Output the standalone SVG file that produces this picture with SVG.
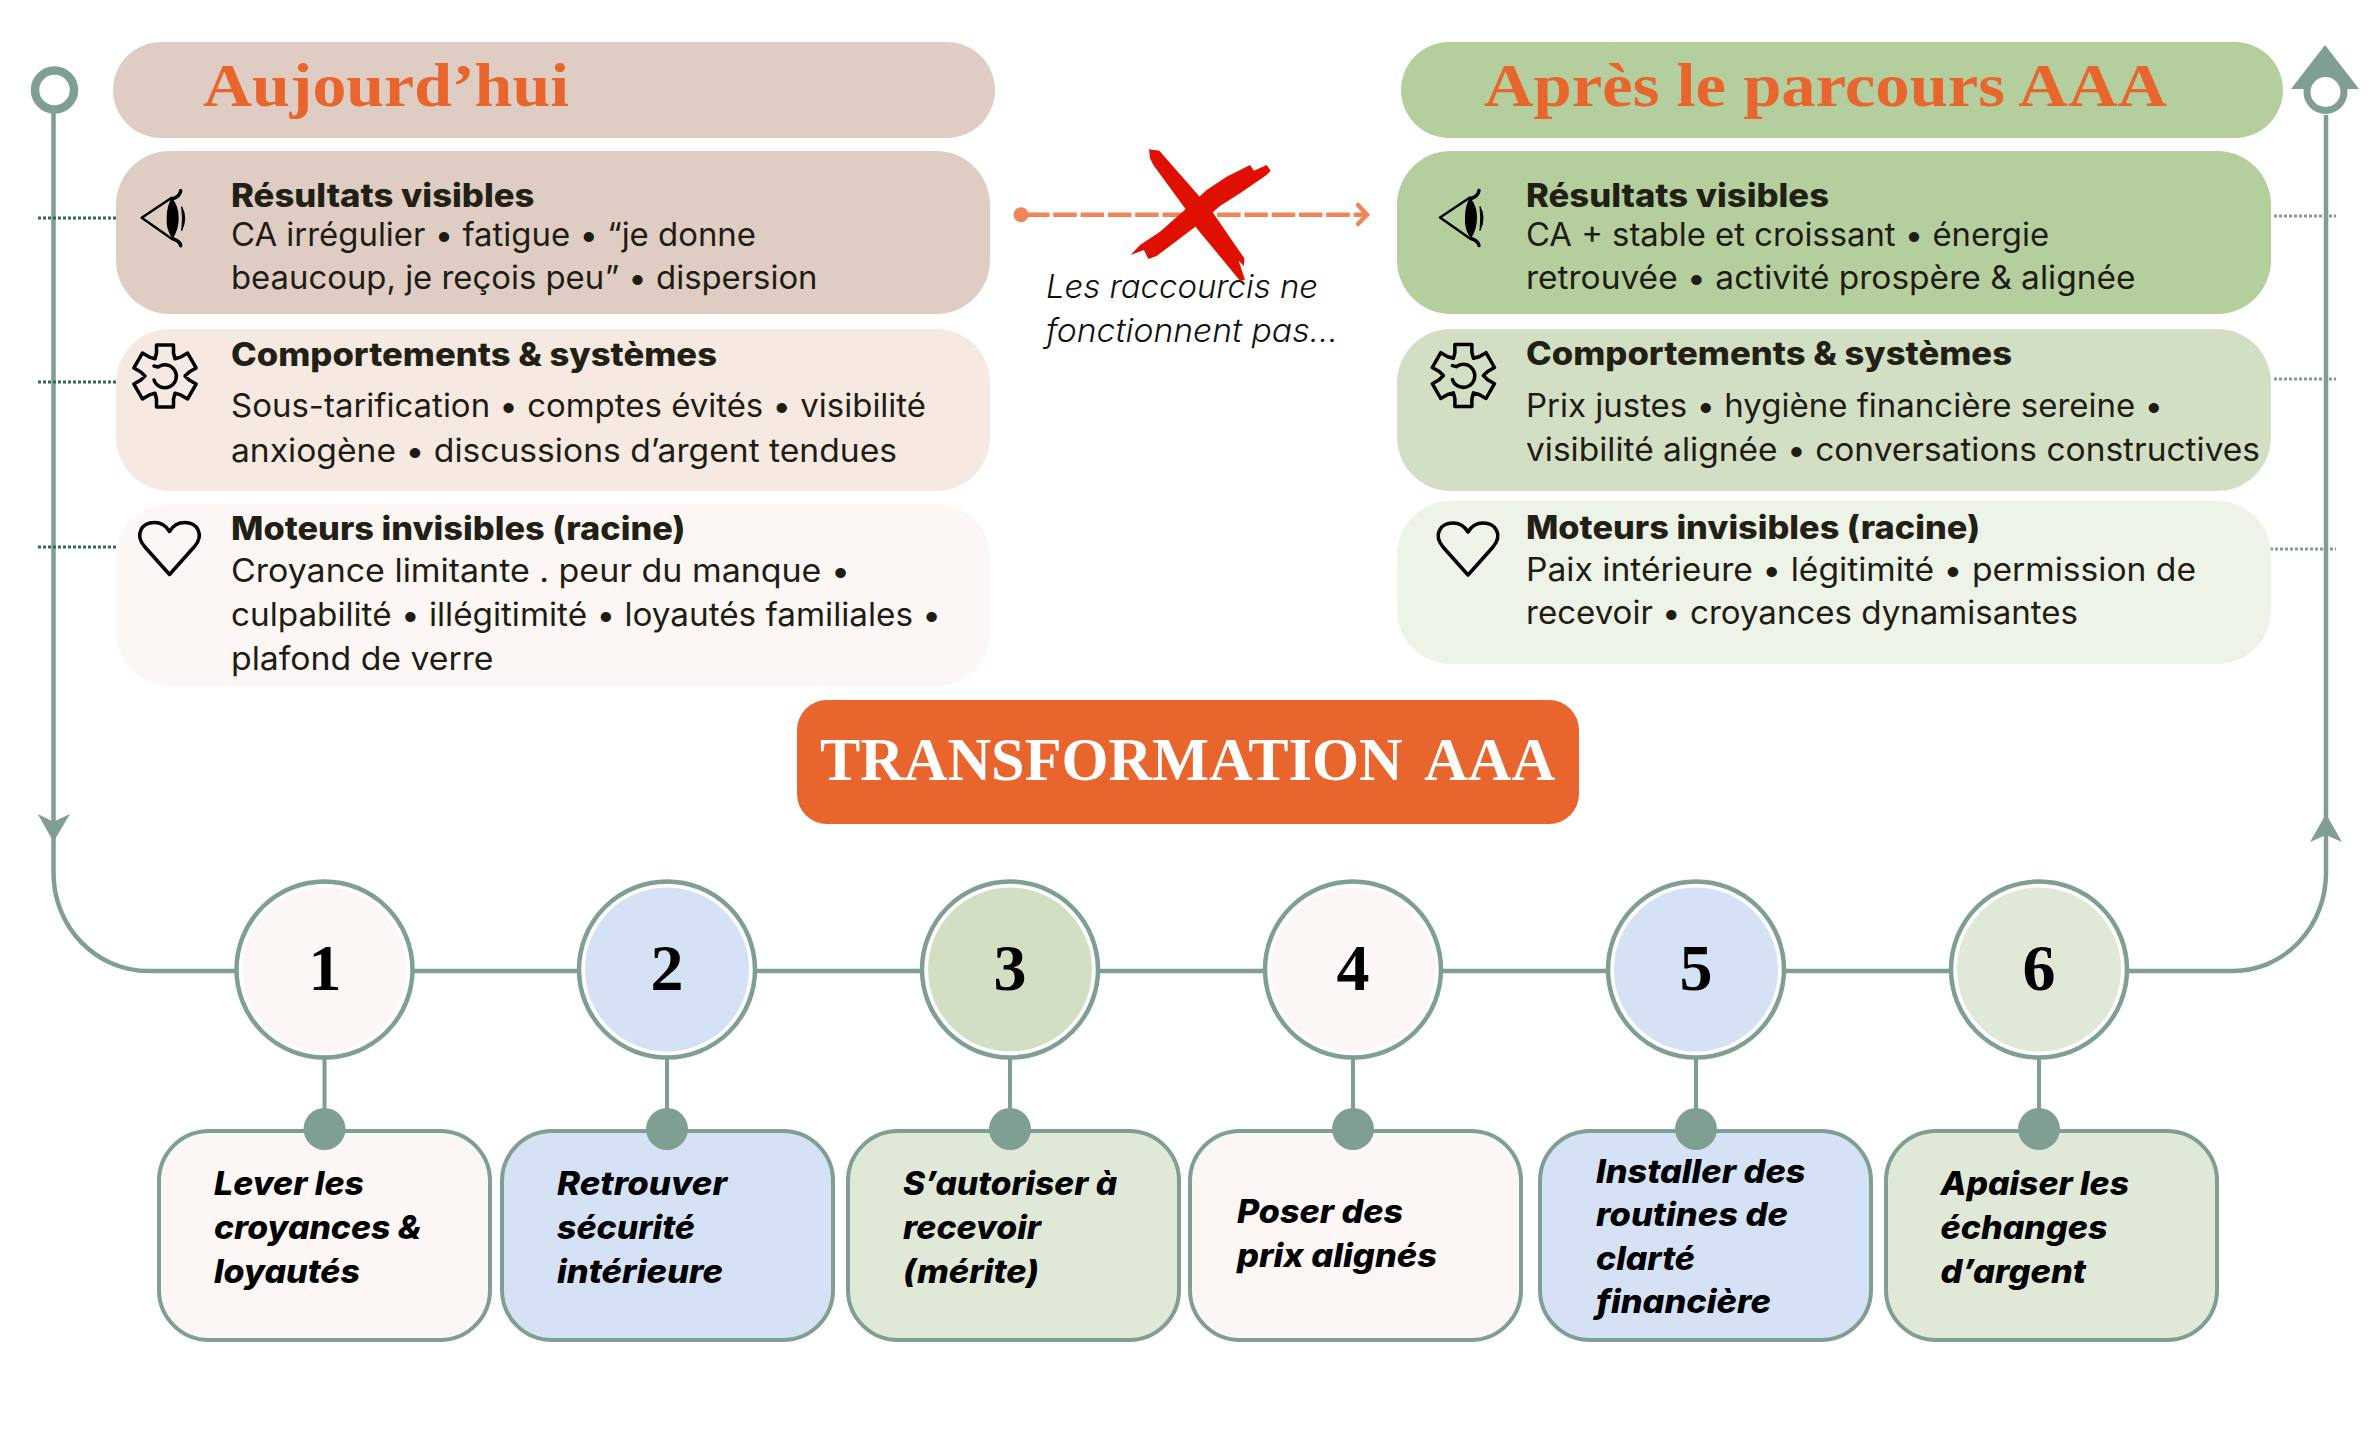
<svg xmlns="http://www.w3.org/2000/svg" xmlns:xlink="http://www.w3.org/1999/xlink" width="2376" height="1440" viewBox="0 0 2376 1440">
<style>
.t{font-family:"Inter","Liberation Sans",sans-serif;font-size:32px;fill:#1f1c14}
.h{font-family:"Inter","Liberation Sans",sans-serif;font-size:32px;font-weight:800;fill:#221f14}
.s{font-family:"Inter","Liberation Sans",sans-serif;font-size:32px;font-weight:800;font-style:italic;fill:#000}
.i{font-family:"Inter","Liberation Sans",sans-serif;font-size:32px;font-weight:300;font-style:italic;fill:#111}
.ti{font-family:"Liberation Serif",serif;font-size:62px;font-weight:bold;fill:#E8652D}
.n{font-family:"Liberation Serif",serif;font-size:66px;font-weight:bold;fill:#000;text-anchor:middle}
.tr{font-family:"Liberation Serif",serif;font-size:61px;font-weight:bold;fill:#fff;word-spacing:10px}
.ln{fill:none;stroke:#7F9F92;stroke-width:4.5}
.st{fill:none;stroke:#7F9F92;stroke-width:4}
.dl{fill:none;stroke:#2F6B55;stroke-width:3;stroke-dasharray:3 2}
.dr{fill:none;stroke:#7F9F92;stroke-width:3;stroke-dasharray:3 2}
.c{stroke:#7F9F92;stroke-width:4.5}
.b{stroke:#7F9F92;stroke-width:4}
.ic{fill:none;stroke:#000;stroke-width:3.5;stroke-linejoin:round;stroke-linecap:round}
</style>
<defs>
<g id="eye">
<path class="ic" style="stroke-width:2.5" d="M30 -20 L0 0 L30 21"/>
<path class="ic" d="M31 -19 Q38 -21 39 -27 M31 21 Q38 23 39 28"/>
<path fill="#000" d="M30 -20 Q37 -12 37 0 Q37 12 31 21 Q24 12 25 0 Q25 -12 30 -20Z"/>
<path fill="#000" d="M40 -11 Q46 0 40 13 Q41.5 0 40 -11Z" stroke="#000" stroke-width="1"/>
</g>
<g id="gear">
<path class="ic" d="M-8.5 -23V-31H8.5V-23L10 -17.3L15.7 -18.9L22.6 -22.9L31.1 -8.1L24.2 -4.1L20 0L24.2 4.1L31.1 8.1L22.6 22.9L15.7 18.9L10 17.3L8.5 23V31H-8.5V23L-10 17.3L-15.7 18.9L-22.6 22.9L-31.1 8.1L-24.2 4.1L-20 0L-24.2 -4.1L-31.1 -8.1L-22.6 -22.9L-15.7 -18.9L-10 -17.3Z"/>
<path class="ic" d="M-7 -9 A11.5 11.5 0 1 1 -11 4 M-7 -9 L-11 -10"/>
</g>
<path id="heart" class="ic" d="M30 52L5 24C-5 12 2 0 15 0C22 0 27 4 30 9C33 4 38 0 45 0C58 0 65 12 55 24Z"/>
</defs>

<g id="connectors">
<path class="ln" d="M53.5 113V873A95 98 0 0 0 148 971H2233A93 98 0 0 0 2326 873V115"/>
<path class="st" d="M324.5 1059V1130M667 1059V1130M1010 1059V1130M1353 1059V1130M1696 1059V1130M2039 1059V1130"/>
<path class="dl" d="M38 218H116M38 382H116M38 547H116"/>
<path class="dr" d="M2274 216H2336M2274 379H2336M2270 549H2336"/>
<path fill="#7F9F92" d="M37.7 814L53.5 821.7L70 814L53.5 841.7Z"/>
<path fill="#7F9F92" d="M2310 842L2326 835L2342 842L2326 814Z"/>
<path fill="none" stroke="#EE8659" stroke-width="4.5" stroke-dasharray="23.5 3.8" d="M1026 214.7H1364"/>
<circle cx="1021" cy="214.7" r="7.5" fill="#EE8659"/>
<path fill="none" stroke="#EE8659" stroke-width="4.5" stroke-linecap="round" d="M1358 205L1367 214.7L1358 224"/>
</g>

<g id="start-marker"><circle cx="54.5" cy="90" r="19.5" fill="#fff" stroke="#7F9F92" stroke-width="8.5"/></g>
<g id="end-marker">
<polygon points="2325,45 2359,89 2291,89" fill="#7F9F92"/>
<circle cx="2325.5" cy="92" r="18.5" fill="#fff" stroke="#7F9F92" stroke-width="7"/>
</g>

<g id="title-today"><rect x="113" y="42" width="882" height="96" rx="48" fill="#DFCDC3"/>
<text class="ti" x="203" y="106" textLength="366" lengthAdjust="spacingAndGlyphs">Aujourd’hui</text></g>
<g id="title-after"><rect x="1401" y="42" width="882" height="96" rx="48" fill="#B4CE9E"/>
<text class="ti" x="1484" y="106" textLength="683" lengthAdjust="spacingAndGlyphs">Après le parcours AAA</text></g>

<g id="today-results"><rect x="116" y="151" width="874" height="163" rx="54" fill="#DFCDC3"/>
<use href="#eye" x="141.7" y="217.7"/>
<text class="h" x="231" y="207" textLength="303.5" lengthAdjust="spacingAndGlyphs">Résultats visibles</text>
<text class="t" x="231" y="245.5" textLength="525" lengthAdjust="spacingAndGlyphs">CA irrégulier • fatigue • “je donne</text>
<text class="t" x="231" y="289" textLength="586.5" lengthAdjust="spacingAndGlyphs">beaucoup, je reçois peu” • dispersion</text></g>
<g id="today-behaviours"><rect x="116" y="329" width="874" height="162" rx="54" fill="#F6E9E2"/>
<use href="#gear" x="165" y="376"/>
<text class="h" x="231" y="365.5" textLength="486" lengthAdjust="spacingAndGlyphs">Comportements &amp; systèmes</text>
<text class="t" x="231" y="417" textLength="695" lengthAdjust="spacingAndGlyphs">Sous-tarification • comptes évités • visibilité</text>
<text class="t" x="231" y="461.5" textLength="666" lengthAdjust="spacingAndGlyphs">anxiogène • discussions d’argent tendues</text></g>
<g id="today-drivers"><rect x="116" y="504" width="874" height="182" rx="54" fill="#FCF7F4"/>
<use href="#heart" x="139.5" y="522.5"/>
<text class="h" x="231" y="540" textLength="454.5" lengthAdjust="spacingAndGlyphs">Moteurs invisibles (racine)</text>
<text class="t" x="231" y="582" textLength="619" lengthAdjust="spacingAndGlyphs">Croyance limitante . peur du manque •</text>
<text class="t" x="231" y="626" textLength="710" lengthAdjust="spacingAndGlyphs">culpabilité • illégitimité • loyautés familiales •</text>
<text class="t" x="231" y="670" textLength="262.5" lengthAdjust="spacingAndGlyphs">plafond de verre</text></g>

<g id="after-results"><rect x="1397" y="151" width="874" height="163" rx="54" fill="#B4CE9E"/>
<use href="#eye" x="1440" y="217.5"/>
<text class="h" x="1526" y="207" textLength="303" lengthAdjust="spacingAndGlyphs">Résultats visibles</text>
<text class="t" x="1526" y="245.5" textLength="523" lengthAdjust="spacingAndGlyphs">CA + stable et croissant • énergie</text>
<text class="t" x="1526" y="289" textLength="609.5" lengthAdjust="spacingAndGlyphs">retrouvée • activité prospère &amp; alignée</text></g>
<g id="after-behaviours"><rect x="1397" y="329" width="874" height="162" rx="54" fill="#D3DFC4"/>
<use href="#gear" x="1463.4" y="375.6"/>
<text class="h" x="1526" y="365" textLength="486" lengthAdjust="spacingAndGlyphs">Comportements &amp; systèmes</text>
<text class="t" x="1526" y="417" textLength="637" lengthAdjust="spacingAndGlyphs">Prix justes • hygiène financière sereine •</text>
<text class="t" x="1526" y="461" textLength="734" lengthAdjust="spacingAndGlyphs">visibilité alignée • conversations constructives</text></g>
<g id="after-drivers"><rect x="1397" y="501" width="874" height="163" rx="54" fill="#EEF3E8"/>
<use href="#heart" x="1438" y="523"/>
<text class="h" x="1526" y="539" textLength="454" lengthAdjust="spacingAndGlyphs">Moteurs invisibles (racine)</text>
<text class="t" x="1526" y="581" textLength="670" lengthAdjust="spacingAndGlyphs">Paix intérieure • légitimité • permission de</text>
<text class="t" x="1526" y="624" textLength="552" lengthAdjust="spacingAndGlyphs">recevoir • croyances dynamisantes</text></g>

<g id="shortcut-note">
<text class="i" x="1046" y="298" textLength="272" lengthAdjust="spacingAndGlyphs">Les raccourcis ne</text>
<text class="i" x="1046" y="342" textLength="292" lengthAdjust="spacingAndGlyphs">fonctionnent pas...</text>
</g>
<g id="red-cross" transform="translate(1000 130) scale(.33333)" fill="#E01000">
<path d="M447 58L478 62L520 110L590 190L640 250L733 385L732 408L716 392L735 450L720 452L590 295L555 235L460 105L450 85Z"/>
<path d="M812 122L800 135L720 190L660 228L600 280L470 378L445 387L432 360L392 375L420 345L480 305L560 235L620 180L680 140L750 105L762 122L800 105Z"/>
</g>

<g id="transformation"><rect x="797" y="700" width="782" height="124" rx="30" fill="#E8652D"/>
<text class="tr" x="820" y="780" textLength="735" lengthAdjust="spacingAndGlyphs">TRANSFORMATION AAA</text></g>

<g id="step-1"><circle class="c" cx="324.5" cy="969.5" r="88" fill="#fff"/><circle cx="324.5" cy="969.5" r="82" fill="#FCF7F4"/><text class="n" x="325" y="990">1</text></g>
<g id="step-2"><circle class="c" cx="667" cy="969.5" r="88" fill="#fff"/><circle cx="667" cy="969.5" r="82" fill="#D5E2F5"/><text class="n" x="667" y="990">2</text></g>
<g id="step-3"><circle class="c" cx="1010" cy="969.5" r="88" fill="#fff"/><circle cx="1010" cy="969.5" r="82" fill="#D3DFC4"/><text class="n" x="1010" y="990">3</text></g>
<g id="step-4"><circle class="c" cx="1353" cy="969.5" r="88" fill="#fff"/><circle cx="1353" cy="969.5" r="82" fill="#FCF7F4"/><text class="n" x="1353" y="990">4</text></g>
<g id="step-5"><circle class="c" cx="1696" cy="969.5" r="88" fill="#fff"/><circle cx="1696" cy="969.5" r="82" fill="#D5E2F5"/><text class="n" x="1696" y="990">5</text></g>
<g id="step-6"><circle class="c" cx="2039" cy="969.5" r="88" fill="#fff"/><circle cx="2039" cy="969.5" r="82" fill="#E0E8D8"/><text class="n" x="2039" y="990">6</text></g>

<g id="box-1"><rect class="b" x="159" y="1131" width="331" height="209" rx="50" fill="#FCF7F4"/>
<text class="s" x="214" y="1195" textLength="150" lengthAdjust="spacingAndGlyphs">Lever les</text>
<text class="s" x="214" y="1239" textLength="207" lengthAdjust="spacingAndGlyphs">croyances &amp;</text>
<text class="s" x="214" y="1282.5" textLength="146" lengthAdjust="spacingAndGlyphs">loyautés</text></g>
<g id="box-2"><rect class="b" x="502" y="1131" width="331" height="209" rx="50" fill="#D5E2F5"/>
<text class="s" x="557" y="1195" textLength="170" lengthAdjust="spacingAndGlyphs">Retrouver</text>
<text class="s" x="557" y="1239" textLength="138" lengthAdjust="spacingAndGlyphs">sécurité</text>
<text class="s" x="557" y="1282.5" textLength="166" lengthAdjust="spacingAndGlyphs">intérieure</text></g>
<g id="box-3"><rect class="b" x="848" y="1131" width="331" height="209" rx="50" fill="#E0E8D8"/>
<text class="s" x="903" y="1195" textLength="214" lengthAdjust="spacingAndGlyphs">S’autoriser à</text>
<text class="s" x="903" y="1239" textLength="138" lengthAdjust="spacingAndGlyphs">recevoir</text>
<text class="s" x="903" y="1282.5" textLength="136" lengthAdjust="spacingAndGlyphs">(mérite)</text></g>
<g id="box-4"><rect class="b" x="1190" y="1131" width="331" height="209" rx="50" fill="#FCF7F4"/>
<text class="s" x="1237" y="1223" textLength="166" lengthAdjust="spacingAndGlyphs">Poser des</text>
<text class="s" x="1237" y="1267" textLength="200" lengthAdjust="spacingAndGlyphs">prix alignés</text></g>
<g id="box-5"><rect class="b" x="1540" y="1131" width="331" height="209" rx="50" fill="#D5E2F5"/>
<text class="s" x="1596" y="1182.5" textLength="209.5" lengthAdjust="spacingAndGlyphs">Installer des</text>
<text class="s" x="1596" y="1226" textLength="192" lengthAdjust="spacingAndGlyphs">routines de</text>
<text class="s" x="1596" y="1270" textLength="99" lengthAdjust="spacingAndGlyphs">clarté</text>
<text class="s" x="1596" y="1313" textLength="175" lengthAdjust="spacingAndGlyphs">financière</text></g>
<g id="box-6"><rect class="b" x="1886" y="1131" width="331" height="209" rx="50" fill="#E0E8D8"/>
<text class="s" x="1940.5" y="1195" textLength="188.5" lengthAdjust="spacingAndGlyphs">Apaiser les</text>
<text class="s" x="1940.5" y="1239" textLength="167" lengthAdjust="spacingAndGlyphs">échanges</text>
<text class="s" x="1940.5" y="1282.5" textLength="145.5" lengthAdjust="spacingAndGlyphs">d’argent</text></g>

<g id="connector-dots" fill="#7F9F92">
<circle cx="324.5" cy="1129" r="21"/><circle cx="667" cy="1129" r="21"/><circle cx="1010" cy="1129" r="21"/><circle cx="1353" cy="1129" r="21"/><circle cx="1696" cy="1129" r="21"/><circle cx="2039" cy="1129" r="21"/>
</g>
</svg>
